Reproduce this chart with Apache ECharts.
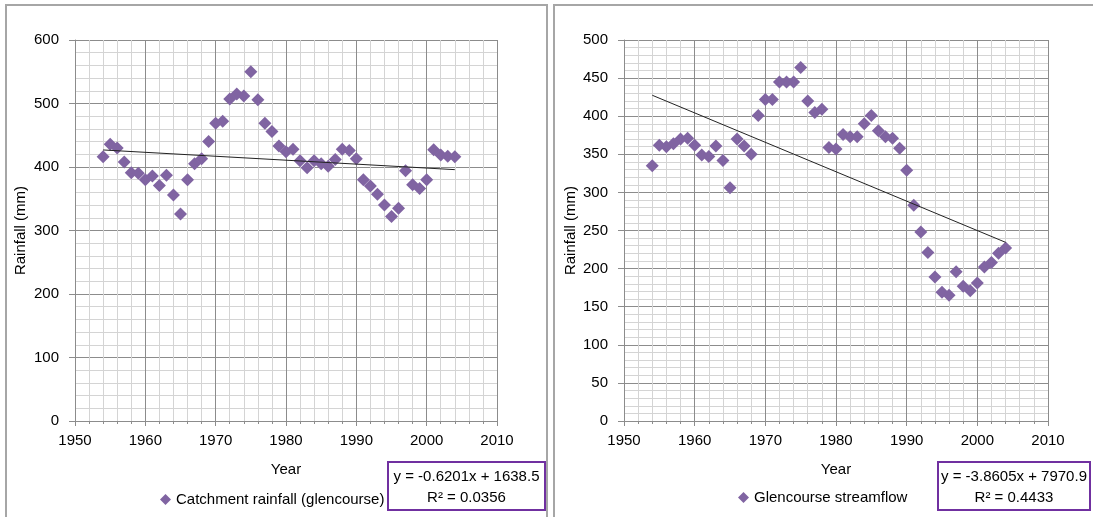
<!DOCTYPE html>
<html>
<head>
<meta charset="utf-8">
<script src="https://cdn.jsdelivr.net/npm/echarts@6/dist/echarts.min.js"></script>
<style>
  html, body { margin: 0; padding: 0; background: #fff; }
  #chart { width: 1093px; height: 517px; }
</style>
</head>
<body>
<div id="chart"></div>
<script type="text/javascript">
    // data
    var years = [];
    for (var y = 1954; y <= 2004; y++) years.push(y);

    var catchmentRain = [416, 436, 430, 408, 391, 390, 380, 386, 371, 387,
        356, 326, 380, 405, 413, 440, 469, 472, 507, 515,
        512, 550, 506, 469, 456, 433, 424, 428, 410, 399,
        410, 405, 401, 412, 428, 426, 413, 380, 370, 357,
        340, 322, 335, 394, 372, 366, 380, 427, 419, 417, 416];

    var streamflow = [335, 362, 360, 364, 370, 371, 362, 349, 347, 361,
        342, 306, 370, 361, 350, 401, 422, 422, 445, 445,
        445, 464, 420, 405, 409, 359, 357, 376, 373, 373,
        390, 401, 381, 373, 371, 358, 329, 283, 248, 221,
        189, 169, 165, 196, 177, 171, 181, 202, 208, 220, 227];

    // linear trend: [slope, intercept, r2]
    var catchmentTrend = [-0.6201, 1638.5, 0.0356];
    var streamTrend = [-3.8605, 7970.9, 0.4433];

    var xTicks = [1950, 2010, 10];
    var leftTicks = [0, 600, 100];
    var rightTicks = [0, 500, 50];

    var FONT = 'Liberation Sans';
    var FS = 15;
    var PURPLE = '#8064A2';
    var MAJOR = '#8c8c8c';
    var MINOR = '#d4d4d4';

    function pairs(vals) {
        return years.map(function (yr, i) { return [yr, vals[i]]; });
    }
    function trendLine(t) {
        var a = years[0], b = years[years.length - 1];
        return [[a, t[0] * a + t[1]], [b, t[0] * b + t[1]]];
    }
    function eqText(t) {
        return 'y = ' + t[0] + 'x + ' + t[1] + '\nR\u00b2 = ' + t[2];
    }
    function xAxis(idx) {
        return {
            type: 'value', gridIndex: idx, min: xTicks[0], max: xTicks[1], interval: xTicks[2],
            name: 'Year', nameLocation: 'middle', nameGap: 41,
            nameTextStyle: { fontFamily: FONT, fontSize: FS, color: '#000' },
            axisLine: { onZero: false, lineStyle: { color: MAJOR } },
            axisTick: { length: 5, lineStyle: { color: MAJOR } },
            axisLabel: { fontFamily: FONT, fontSize: FS, color: '#000', margin: 12,
                         formatter: function (v) { return String(v); } },
            splitLine: { show: true, lineStyle: { color: MAJOR, width: 1 } },
            minorTick: { show: true, splitNumber: 5, length: 3, lineStyle: { color: MAJOR } },
            minorSplitLine: { show: true, lineStyle: { color: MINOR, width: 1 } }
        };
    }
    function yAxis(idx, t, gap) {
        return {
            type: 'value', gridIndex: idx, min: t[0], max: t[1], interval: t[2],
            name: 'Rainfall (mm)', nameLocation: 'middle', nameGap: gap,
            nameTextStyle: { fontFamily: FONT, fontSize: FS, color: '#000' },
            axisLine: { show: true, lineStyle: { color: MAJOR } },
            axisTick: { show: true, length: 6, lineStyle: { color: MAJOR } },
            axisLabel: { fontFamily: FONT, fontSize: FS, color: '#000', margin: 16 },
            splitLine: { show: true, lineStyle: { color: MAJOR, width: 1 } },
            minorTick: { show: false, splitNumber: 5 },
            minorSplitLine: { show: true, lineStyle: { color: MINOR, width: 1 } }
        };
    }
    function eqBox(x, y, w, h, t) {
        return {
            type: 'group', z: 100,
            children: [
                { type: 'rect', shape: { x: x, y: y, width: w, height: h },
                  style: { fill: '#fff', stroke: '#7030A0', lineWidth: 2 } },
                { type: 'text', x: x + w / 2, y: y + 4,
                  style: { text: eqText(t), align: 'center', verticalAlign: 'top',
                           font: FS + 'px ' + FONT, fill: '#000', lineHeight: 21 } }
            ]
        };
    }

    var chart = echarts.init(document.getElementById('chart'));
    chart.setOption({
        animation: false,
        backgroundColor: '#fff',
        grid: [
            { left: 75, right: 596, top: 40, bottom: 96 },
            { left: 624, right: 45, top: 40, bottom: 96 }
        ],
        xAxis: [xAxis(0), xAxis(1)],
        yAxis: [yAxis(0, leftTicks, 47), yAxis(1, rightTicks, 46)],
        legend: [
            { data: ['Catchment rainfall (glencourse)'], left: 155, top: 487, icon: 'diamond',
              itemWidth: 11, itemHeight: 11, itemGap: 4,
              textStyle: { fontFamily: FONT, fontSize: FS, color: '#000' } },
            { data: ['Glencourse streamflow'], left: 733, top: 485, icon: 'diamond',
              itemWidth: 11, itemHeight: 11, itemGap: 4,
              textStyle: { fontFamily: FONT, fontSize: FS, color: '#000' } }
        ],
        series: [
            { name: 'Catchment rainfall (glencourse)', type: 'scatter', xAxisIndex: 0, yAxisIndex: 0,
              symbol: 'diamond', symbolSize: 13, itemStyle: { color: PURPLE, opacity: 1 },
              data: pairs(catchmentRain) },
            { name: 'catchTrend', type: 'line', xAxisIndex: 0, yAxisIndex: 0, symbol: 'none',
              lineStyle: { color: '#222', width: 1 }, z: 3, data: trendLine(catchmentTrend) },
            { name: 'Glencourse streamflow', type: 'scatter', xAxisIndex: 1, yAxisIndex: 1,
              symbol: 'diamond', symbolSize: 13, itemStyle: { color: PURPLE, opacity: 1 },
              data: pairs(streamflow) },
            { name: 'streamTrend', type: 'line', xAxisIndex: 1, yAxisIndex: 1, symbol: 'none',
              lineStyle: { color: '#222', width: 1 }, z: 3, data: trendLine(streamTrend) }
        ],
        graphic: [
            { type: 'rect', z: -10, silent: true, shape: { x: 6, y: 5, width: 541, height: 530 },
              style: { fill: 'none', stroke: '#a6a6a6', lineWidth: 2 } },
            { type: 'rect', z: -10, silent: true, shape: { x: 554, y: 5, width: 560, height: 530 },
              style: { fill: 'none', stroke: '#a6a6a6', lineWidth: 2 } },
            eqBox(388, 462, 157, 48, catchmentTrend),
            eqBox(938, 462, 152, 48, streamTrend)
        ]
    });
</script>
</body>
</html>
